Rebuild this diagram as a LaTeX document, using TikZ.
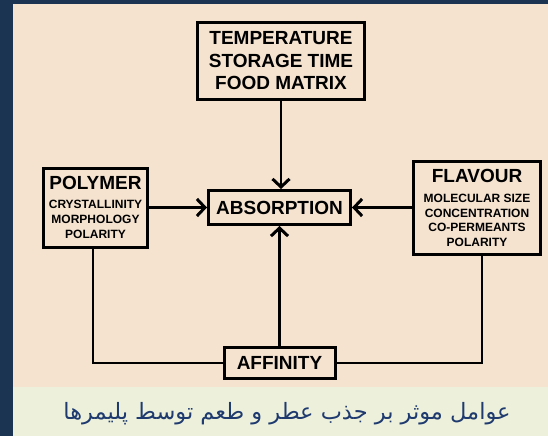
\documentclass[tikz,border=0pt]{standalone}
\usepackage{fontspec}
\setmainfont{Liberation Sans}
\newfontfamily\arabicfont[Script=Arabic]{DejaVu Sans}
\TeXXeTstate=1
\usetikzlibrary{arrows.meta,positioning}
\definecolor{nightblue}{HTML}{1B3452}
\definecolor{paper}{HTML}{F5E3D0}
\definecolor{captionbg}{HTML}{EDF1DC}
\definecolor{captionink}{HTML}{1F3A6E}
\newcommand\bigtxt{\fontsize{19}{22.5}\selectfont\bfseries}
\newcommand\subtxt{\fontsize{12}{14.5}\selectfont\bfseries}
\newcommand\subtxtloose{\fontsize{12}{15.2}\selectfont\bfseries}

\begin{document}
\begin{tikzpicture}[x=1pt,y=-1pt,box/.style={draw,line width=3pt,align=center,inner sep=2pt,font=\bigtxt},link/.style={line width=2.6pt},>={Straight Barb[length=8pt,width=17pt,line width=3pt]}]
\useasboundingbox (0,0) rectangle (548,436);
\fill[nightblue] (0,0) rectangle (548,436);
\fill[paper] (13,4) rectangle (548,387);
\fill[captionbg] (13,387) rectangle (548,436);
\node[box,minimum width=142pt,minimum height=34pt] (absorb) at (279.5,207.5) {ABSORPTION};
\node[box,minimum width=167pt,minimum height=77pt,above=88pt of absorb,xshift=1.5pt] (storage) {TEMPERATURE\\STORAGE TIME\\FOOD MATRIX};
\node[box,font=\subtxtloose,minimum width=104pt,minimum height=79pt,left=58pt of absorb] (polymer) {{\bigtxt POLYMER}\\[4pt]CRYSTALLINITY\\MORPHOLOGY\\POLARITY};
\node[box,font=\subtxt,minimum width=127pt,minimum height=93pt,right=60pt of absorb] (flavour) {{\bigtxt FLAVOUR}\\[6pt]MOLECULAR SIZE\\CONCENTRATION\\CO-PERMEANTS\\POLARITY};
\node[box,minimum width=111pt,minimum height=31pt,below=120pt of absorb] (affinity) {AFFINITY};
\draw[link,->] (storage) -- (storage |- absorb.north);
\draw[link,->] (polymer) -- (absorb);
\draw[link,->] (flavour) -- (absorb);
\draw[link,->] (affinity) -- (absorb);
\draw[link,line width=2.2pt] ([xshift=-2.5pt]polymer.south) |- (affinity.west);
\draw[link,line width=2.2pt] ([xshift=5pt]flavour.south) |- (affinity.east);
\node[text=captionink,font=\arabicfont\fontsize{22.5}{26}\selectfont] (caption) at (287,414) {\beginR عوامل موثر بر جذب عطر و طعم توسط پلیمرها\endR};
\end{tikzpicture}
\end{document}
